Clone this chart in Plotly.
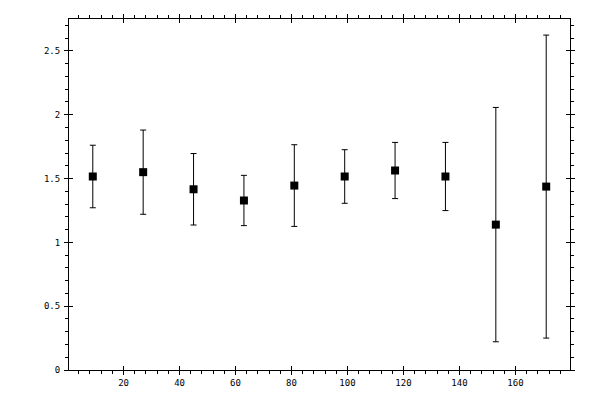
import plotly.graph_objects as go

FONT = 'DejaVu Sans Mono, monospace'

# bin centres and measured ratio with symmetric errors
bin_centres = [9, 27, 45, 63, 81, 99, 117, 135, 153, 171]
ratio = [1.516, 1.55, 1.416, 1.328, 1.445, 1.516, 1.563, 1.516, 1.139, 1.437]
ratio_err = [0.245, 0.33, 0.28, 0.197, 0.32, 0.21, 0.22, 0.267, 0.918, 1.187]

x_range = [0.5, 179.5]
y_range = [0, 2.75]

fig = go.Figure()
fig.add_trace(go.Scatter(
    x=bin_centres, y=ratio, mode='markers',
    marker=dict(symbol='square', size=8, color='black'),
    error_y=dict(type='data', array=ratio_err, color='black', thickness=1, width=3),
    showlegend=False, hoverinfo='skip',
))
# empty trace so the overlay axes (inner half of the major ticks) get drawn
fig.add_trace(go.Scatter(x=[], y=[], xaxis='x2', yaxis='y2', showlegend=False))

axis_common = dict(showgrid=False, zeroline=False, showline=True, linecolor='black',
                   linewidth=1, mirror='allticks', ticks='outside', ticklen=4,
                   tickcolor='black', tickwidth=1)

fig.update_layout(
    width=600, height=400,
    margin=dict(l=69, r=30, t=19, b=30),
    paper_bgcolor='white', plot_bgcolor='white',
    font=dict(family=FONT, size=9, color='black'),
    xaxis=dict(range=x_range, dtick=20, tick0=0,
               minor=dict(dtick=4, tick0=0, ticks='outside', ticklen=3,
                          tickcolor='black', showgrid=False),
               **axis_common),
    yaxis=dict(range=y_range, dtick=0.5, tick0=0,
               minor=dict(dtick=0.1, tick0=0, ticks='outside', ticklen=3,
                          tickcolor='black', showgrid=False),
               ticklabelstandoff=2,
               **axis_common),
    xaxis2=dict(range=x_range, dtick=20, tick0=0, overlaying='x', anchor='y2',
                showgrid=False, zeroline=False, showline=False, mirror='ticks',
                ticks='inside', ticklen=4, tickcolor='black', showticklabels=False),
    yaxis2=dict(range=y_range, dtick=0.5, tick0=0, overlaying='y', anchor='x2',
                showgrid=False, zeroline=False, showline=False, mirror='ticks',
                ticks='inside', ticklen=4, tickcolor='black', showticklabels=False),
)

# drop the default 8px page margin so the figure sits at the window origin
fig.write_html("out.html", config={'displayModeBar': False},
               post_script="document.body.style.margin = '0';")
